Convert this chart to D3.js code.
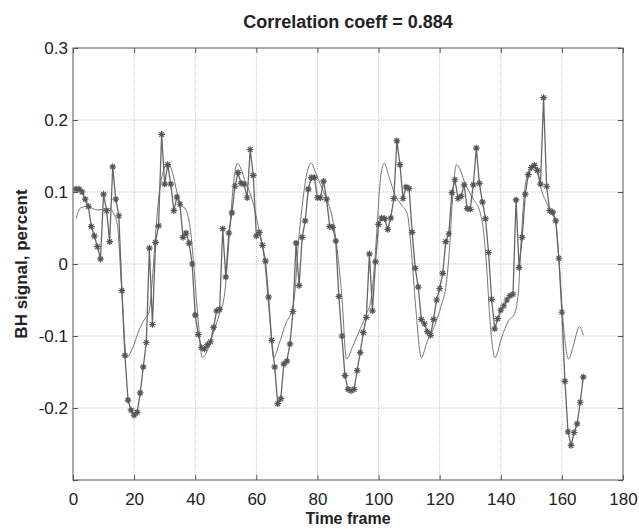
<!DOCTYPE html>
<html>
<head>
<meta charset="utf-8">
<script src="https://cdn.jsdelivr.net/npm/d3@7"></script>
<style>
    body { margin: 0; background: #fff; }
    text { font-family: "Liberation Sans", Arial, sans-serif; }
</style>
</head>
<body>
<div class="container"></div>
<script>
var title = 'Correlation coeff = 0.884';
var xLabel = 'Time frame';
var yLabel = 'BH signal, percent';

var xTicks = [0, 20, 40, 60, 80, 100, 120, 140, 160, 180];
var yTicks = [-0.3, -0.2, -0.1, 0, 0.1, 0.2, 0.3];
var yTickLabels = ['', '-0.2', '-0.1', '0', '0.1', '0.2', '0.3'];

// measured BH signal, one value per time frame (frames 1..167)
var measured = [
    0.104, 0.104, 0.100, 0.090, 0.080, 0.052, 0.039, 0.024, 0.007, 0.097,
    0.074, 0.031, 0.135, 0.090, 0.067, -0.037, -0.127, -0.189, -0.203, -0.210,
    -0.206, -0.179, -0.143, -0.109, 0.022, -0.084, 0.030, 0.053, 0.180, 0.111,
    0.138, 0.111, 0.074, 0.093, 0.083, 0.037, 0.043, 0.029, 0.000, -0.071,
    -0.098, -0.116, -0.118, -0.112, -0.108, -0.088, -0.065, -0.063, 0.049, -0.018,
    0.043, 0.071, 0.108, 0.127, 0.112, 0.111, 0.092, 0.159, 0.123, 0.039,
    0.044, 0.026, 0.004, -0.046, -0.106, -0.143, -0.194, -0.187, -0.139, -0.135,
    -0.111, -0.066, 0.029, -0.030, 0.037, 0.060, 0.104, 0.120, 0.120, 0.092,
    0.092, 0.115, 0.090, 0.052, 0.051, 0.032, -0.045, -0.100, -0.155, -0.174,
    -0.176, -0.174, -0.148, -0.123, -0.095, -0.074, 0.014, -0.065, 0.003, 0.055,
    0.064, 0.063, 0.048, 0.064, 0.091, 0.171, 0.138, 0.091, 0.107, 0.105,
    0.044, -0.006, -0.032, -0.077, -0.083, -0.094, -0.099, -0.077, -0.050, -0.034,
    -0.013, 0.031, 0.042, 0.099, 0.117, 0.091, 0.094, 0.110, 0.077, 0.076,
    0.110, 0.161, 0.112, 0.086, 0.063, 0.016, -0.049, -0.090, -0.076, -0.064,
    -0.058, -0.050, -0.044, -0.042, 0.089, -0.005, 0.037, 0.097, 0.124, 0.134,
    0.137, 0.130, 0.111, 0.231, 0.108, 0.074, 0.072, 0.060, 0.008, -0.067,
    -0.163, -0.233, -0.252, -0.234, -0.222, -0.192, -0.157
];

// model curve, read at its turning points
var modelT = [
    1, 2.5, 4.5, 8, 12, 13.5, 14.5, 16, 17.5, 19.5, 21.5, 23.5, 24.8, 26, 27, 28,
    29.5, 31, 32.5, 34, 35.5, 37, 38.5, 39.5, 41, 42.3, 44, 46, 48, 49.5, 50.5,
    51.5, 52.5, 53.8, 55, 56.5, 58, 59.5, 61, 62.7, 64.3, 65.7, 67.5, 69.7, 71.6,
    72.6, 73.6, 75, 76.5, 78, 79.3, 81, 83, 84.5, 86.2, 88, 89.5, 91.7, 94, 96,
    97.5, 98.5, 99.5, 100.5, 101.8, 103.5, 105.5, 107.5, 109.4, 110.6, 112.2, 114,
    115.8, 118.3, 120.5, 122.2, 123.2, 124.2, 125.5, 126.5, 128.2, 131, 133, 134.2,
    135.3, 136.4, 138.1, 140.3, 142.5, 144.4, 145.8, 146.6, 147.6, 148.7, 150.3,
    151.9, 153.5, 155.2, 156.2, 157.9, 159, 160.3, 162.2, 163.9, 165.7, 167
];
var modelV = [
    0.063, 0.078, 0.080, 0.075, 0.077, 0.068, 0.055, -0.040, -0.130, -0.117, -0.093, -0.076, -0.068, -0.020, 0.040, 0.090,
    0.128, 0.140, 0.128, 0.100, 0.082, 0.075, 0.045, 0.000, -0.080, -0.130, -0.120, -0.095, -0.068, -0.045, 0.000,
    0.060, 0.110, 0.140, 0.132, 0.113, 0.098, 0.075, 0.045, 0.004, -0.070, -0.130, -0.110, -0.082, -0.064,
    -0.040, 0.020, 0.080, 0.125, 0.140, 0.128, 0.110, 0.090, 0.071, 0.029, -0.045, -0.132, -0.113, -0.090, -0.070,
    -0.050, -0.010, 0.050, 0.113, 0.140, 0.120, 0.095, 0.082, 0.070, 0.025, -0.062, -0.130,
    -0.109, -0.086, -0.058, -0.026, 0.020, 0.090, 0.138, 0.133, 0.113, 0.090, 0.075, 0.051,
    0.000, -0.074, -0.130, -0.102, -0.079, -0.070, -0.037, 0.028, 0.092, 0.125, 0.137,
    0.128, 0.100, 0.083, 0.072, 0.060, 0.009, -0.074, -0.132, -0.111, -0.087, -0.099
];

var MARGIN = {top: 48, right: 16, bottom: 49, left: 73};
var WIDTH = 639;
var HEIGHT = 529;

var translate = function (x, y) {
    return 'translate(' + x + ',' + y + ')';
};

var asterisk = function (s) {
    var d = s * 0.7071;
    return 'M' + (-s) + ',0H' + s + 'M0,' + (-s) + 'V' + s +
        'M' + (-d) + ',' + (-d) + 'L' + d + ',' + d +
        'M' + (-d) + ',' + d + 'L' + d + ',' + (-d);
};

var visualize = function () {
    var innerW = WIDTH - MARGIN.left - MARGIN.right;
    var innerH = HEIGHT - MARGIN.top - MARGIN.bottom;

    var xScale = d3.scaleLinear().domain([0, 180]).range([0, innerW]);
    var yScale = d3.scaleLinear().domain([-0.3, 0.3]).range([innerH, 0]);

    var svg = d3.select('.container').append('svg')
        .attr('width', WIDTH)
        .attr('height', HEIGHT);

    var g = svg.append('g').attr('transform', translate(MARGIN.left, MARGIN.top));

    // dotted grid
    g.append('g').selectAll('line')
        .data(xTicks.slice(1, -1))
        .enter().append('line')
        .attr('x1', xScale).attr('x2', xScale)
        .attr('y1', 0).attr('y2', innerH)
        .attr('stroke', '#c4c4c4').attr('stroke-dasharray', '1,1');
    g.append('g').selectAll('line')
        .data(yTicks.slice(1, -1))
        .enter().append('line')
        .attr('y1', yScale).attr('y2', yScale)
        .attr('x1', 0).attr('x2', innerW)
        .attr('stroke', '#c4c4c4').attr('stroke-dasharray', '1,1');

    // axes, ticks pointing inward like matlab
    var styleAxis = function (sel) {
        sel.select('.domain').remove();
        sel.selectAll('line').attr('stroke', '#555');
        sel.selectAll('text').attr('font-size', 17).attr('fill', '#222');
    };
    g.append('g').attr('transform', translate(0, innerH))
        .call(d3.axisBottom(xScale).tickValues(xTicks).tickSizeInner(-5).tickPadding(13))
        .call(styleAxis);
    g.append('g')
        .call(d3.axisTop(xScale).tickValues(xTicks).tickSizeInner(-5).tickFormat(''))
        .call(styleAxis);
    g.append('g')
        .call(d3.axisLeft(yScale).tickValues(yTicks).tickSizeInner(-5).tickPadding(5)
            .tickFormat(function (d, i) { return yTickLabels[i]; }))
        .call(styleAxis);
    g.append('g').attr('transform', translate(innerW, 0))
        .call(d3.axisRight(yScale).tickValues(yTicks).tickSizeInner(-5).tickFormat(''))
        .call(styleAxis);

    g.append('rect')
        .attr('width', innerW).attr('height', innerH)
        .attr('fill', 'none').attr('stroke', '#555').attr('stroke-width', 1);

    // model curve
    var model = modelT.map(function (t, i) { return {x: t, y: modelV[i]}; });
    g.append('path')
        .datum(model)
        .attr('fill', 'none')
        .attr('stroke', '#777')
        .attr('stroke-width', 1)
        .attr('d', d3.line()
            .x(function (d) { return xScale(d.x); })
            .y(function (d) { return yScale(d.y); })
            .curve(d3.curveMonotoneX));

    // measured signal
    var meas = measured.map(function (v, i) { return {x: i + 1, y: v}; });
    g.append('path')
        .datum(meas)
        .attr('fill', 'none')
        .attr('stroke', '#666')
        .attr('stroke-width', 1.3)
        .attr('d', d3.line()
            .x(function (d) { return xScale(d.x); })
            .y(function (d) { return yScale(d.y); }));

    g.append('g').selectAll('path')
        .data(meas)
        .enter().append('path')
        .attr('transform', function (d) { return translate(xScale(d.x), yScale(d.y)); })
        .attr('d', asterisk(3.3))
        .attr('stroke', '#555')
        .attr('stroke-width', 1.2)
        .attr('fill', 'none');

    // labels
    svg.append('text')
        .attr('x', MARGIN.left + innerW / 2).attr('y', 28)
        .attr('text-anchor', 'middle')
        .attr('font-size', 18).attr('font-weight', 'bold').attr('fill', '#222')
        .text(title);
    svg.append('text')
        .attr('x', MARGIN.left + innerW / 2).attr('y', 524)
        .attr('text-anchor', 'middle')
        .attr('font-size', 16).attr('font-weight', 'bold').attr('fill', '#222')
        .text(xLabel);
    svg.append('text')
        .attr('transform', translate(27, MARGIN.top + innerH / 2) + ' rotate(-90)')
        .attr('text-anchor', 'middle')
        .attr('font-size', 17).attr('font-weight', 'bold').attr('fill', '#222')
        .text(yLabel);
};

window.onload = visualize;
</script>
</body>
</html>
